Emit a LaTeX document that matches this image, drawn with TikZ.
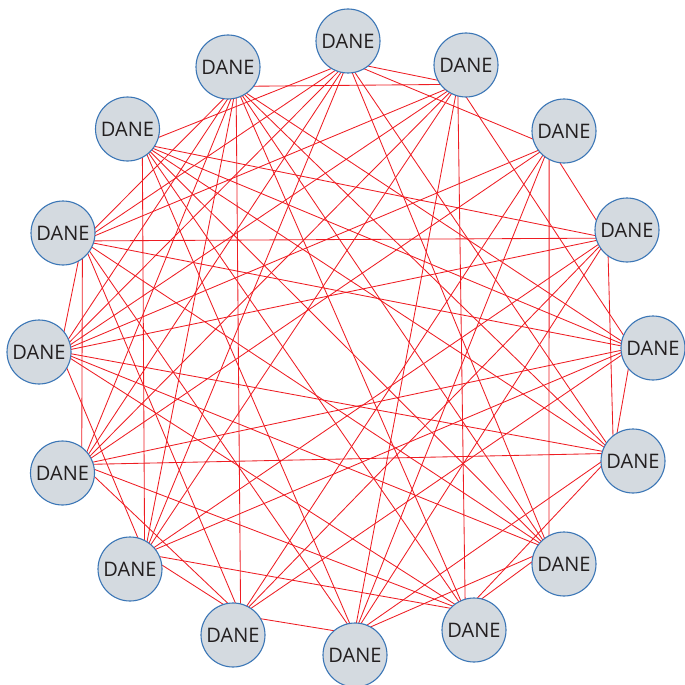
\documentclass[tikz,border=0pt]{standalone}
\usepackage{fontspec}
\setmainfont{Open Sans}
\usetikzlibrary{calc,backgrounds}
\definecolor{nodefill}{HTML}{D4DAE0}
\definecolor{nodeborder}{HTML}{3B76B6}
\definecolor{edgered}{HTML}{EE1D23}
\definecolor{textdark}{HTML}{231F20}
\begin{document}
\begin{tikzpicture}[x=1pt,y=-1pt,
  dane/.style={circle, draw=nodeborder, line width=1.1pt, fill=nodefill,
    minimum size=64pt, inner sep=0pt, font=\fontsize{20}{20}\selectfont, text=textdark},
  link/.style={draw=edgered, line width=0.85pt}]
\useasboundingbox (0,0) rectangle (685,685);
\coordinate (ctr) at (345,348);
\foreach \i/\x/\y in {0/348/41, 1/466/65, 2/564/131, 3/627/230, 4/653/348, 5/633/461,
  6/564/564, 7/474/630, 8/355/655, 9/233/635, 10/130/569, 11/62.5/473, 12/39/352,
  13/63/233, 14/127.5/129, 15/228/67}
{
  \node[dane] (n\i) at (\x,\y) {DANE};
  \coordinate (a\i) at ($(n\i.center)!21pt!(ctr)$);
}
\begin{scope}[on background layer]
\foreach \p/\q in {0/1, 0/2, 1/15, 3/13, 5/11, 9/15, 10/14, 1/7, 2/6, 3/5, 11/13, 8/9,
  12/13, 4/13, 4/11, 2/3, 13/15, 3/14, 12/15, 11/15, 5/15, 4/15, 7/15, 4/10, 4/9,
  1/4, 4/5, 1/13, 0/13, 6/7, 5/7, 1/8, 6/8, 5/8, 10/12, 10/15, 0/10, 1/10, 7/10,
  9/10, 9/11, 0/5, 0/11, 0/12, 2/12, 2/11, 2/9, 2/8, 3/12, 3/9, 3/10, 6/14, 6/13,
  6/12, 0/6, 7/12, 5/12, 1/12, 5/14, 7/14, 8/14, 0/14, 4/14, 8/13, 3/8, 7/11,
  1/11, 9/13, 6/15}
  \draw[link] (a\p) -- (a\q);
\end{scope}
\end{tikzpicture}
\end{document}
